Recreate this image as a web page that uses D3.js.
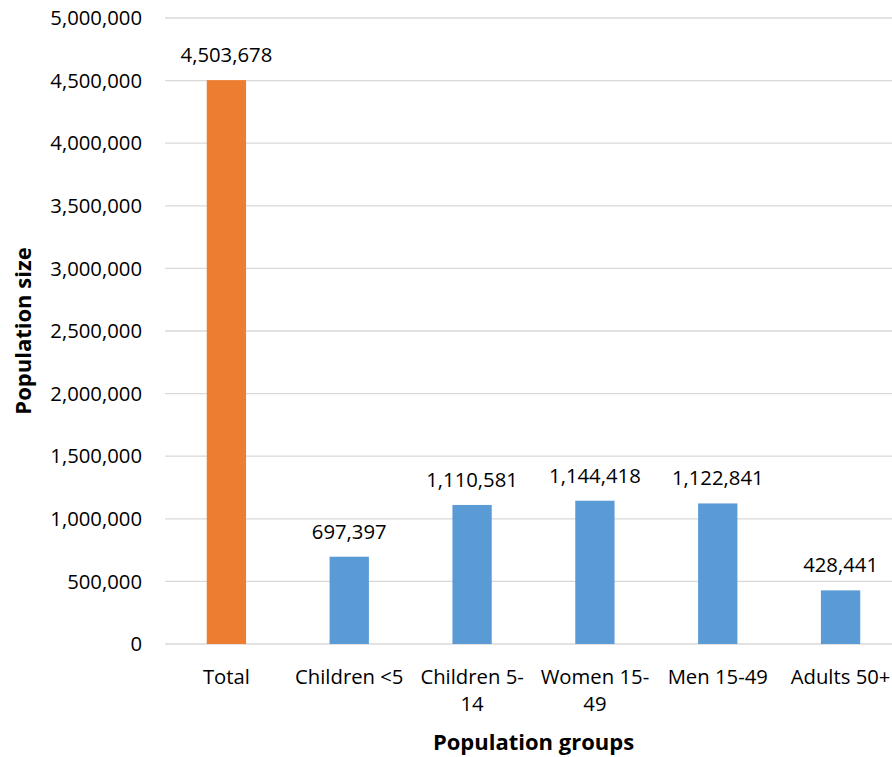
<!DOCTYPE html>
<html>
<head>
<meta charset="utf-8">
<script src="https://cdn.jsdelivr.net/npm/d3@7"></script>
<style>
  html, body { margin: 0; padding: 0; background: #fff; }
  svg { display: block; font-family: "Open Sans", "Noto Sans", sans-serif; }
</style>
</head>
<body>
<svg id="chart" width="892" height="757"></svg>
<script>
// Population size by group
const categories = ["Total", "Children <5", "Children 5-14", "Women 15-49", "Men 15-49", "Adults 50+"];
const values = [4503678, 697397, 1110581, 1144418, 1122841, 428441];
const barColors = ["#ED7D31", "#5B9BD5", "#5B9BD5", "#5B9BD5", "#5B9BD5", "#5B9BD5"];
const yTicks = [0, 500000, 1000000, 1500000, 2000000, 2500000, 3000000, 3500000, 4000000, 4500000, 5000000];

const svg = d3.select("#chart");
const margin = { left: 165, right: 902, top: 18, bottom: 644 };
const fmt = d3.format(",");
const fontSize = 20.3;
const titleSize = 22;

const x = d3.scaleBand()
  .domain(categories)
  .range([margin.left, margin.right])
  .paddingInner(0.68)
  .paddingOuter(0.34);

const y = d3.scaleLinear()
  .domain([0, 5000000])
  .range([margin.bottom, margin.top]);

// horizontal gridlines
svg.append("g")
  .selectAll("line")
  .data(yTicks)
  .join("line")
  .attr("x1", margin.left)
  .attr("x2", margin.right)
  .attr("y1", d => y(d))
  .attr("y2", d => y(d))
  .attr("stroke", "#d9d9d9")
  .attr("stroke-width", 1.3);

// y tick labels
svg.append("g")
  .selectAll("text")
  .data(yTicks)
  .join("text")
  .attr("x", margin.left - 23)
  .attr("y", d => y(d))
  .attr("dy", "0.35em")
  .attr("text-anchor", "end")
  .attr("font-size", fontSize)
  .attr("fill", "#000")
  .text(d => fmt(d));

// bars
svg.append("g")
  .selectAll("rect")
  .data(values)
  .join("rect")
  .attr("x", (d, i) => x(categories[i]))
  .attr("width", x.bandwidth())
  .attr("y", d => y(d))
  .attr("height", d => y(0) - y(d))
  .attr("fill", (d, i) => barColors[i]);

// value labels
svg.append("g")
  .selectAll("text")
  .data(values)
  .join("text")
  .attr("x", (d, i) => x(categories[i]) + x.bandwidth() / 2)
  .attr("y", d => y(d) - 18)
  .attr("text-anchor", "middle")
  .attr("font-size", fontSize)
  .attr("fill", "#000")
  .text(d => fmt(d));

// category labels, wrapped after a hyphen when wider than the band step
const step = x.step();
const catG = svg.append("g");
categories.forEach(c => {
  const cx = x(c) + x.bandwidth() / 2;
  const t = catG.append("text")
    .attr("x", cx)
    .attr("y", 684)
    .attr("text-anchor", "middle")
    .attr("font-size", fontSize)
    .attr("fill", "#000")
    .text(c);
  if (t.node().getComputedTextLength() > step - 4 && c.includes("-")) {
    const k = c.lastIndexOf("-") + 1;
    t.text(null);
    t.append("tspan").attr("x", cx).text(c.slice(0, k));
    t.append("tspan").attr("x", cx).attr("dy", 27).text(c.slice(k));
  }
});

// axis titles
svg.append("text")
  .attr("x", (margin.left + margin.right) / 2)
  .attr("y", 750)
  .attr("text-anchor", "middle")
  .attr("font-size", titleSize)
  .attr("font-weight", "bold")
  .attr("fill", "#000")
  .text("Population groups");

svg.append("text")
  .attr("transform", `translate(31, ${(margin.top + margin.bottom) / 2}) rotate(-90)`)
  .attr("text-anchor", "middle")
  .attr("font-size", titleSize)
  .attr("font-weight", "bold")
  .attr("fill", "#000")
  .text("Population size");
</script>
</body>
</html>
